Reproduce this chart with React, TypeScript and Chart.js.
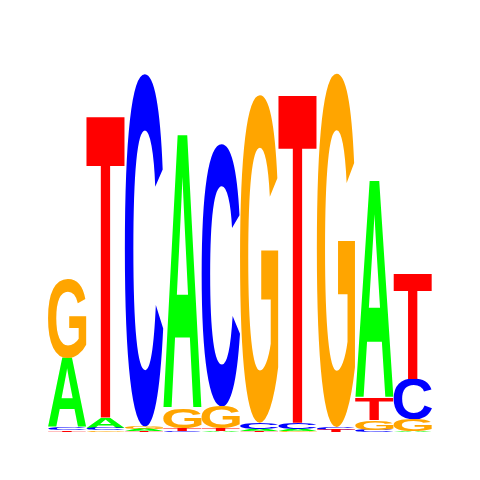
import React, { useEffect, useRef } from 'react';
import { Chart, registerables } from 'chart.js';

Chart.register(...registerables);

// motif positions
const positions = ['1', '2', '3', '4', '5', '6', '7', '8', '9', '10'];

// letter heights in bits, per position
const bitsA = [0.36, 0.055, 0.012, 1.43, 0.005, 0.01, 0.01, 0.0, 1.135, 0.005];
const bitsC = [0.015, 0.012, 1.84, 0.005, 1.37, 0.035, 0.035, 0.015, 0.01, 0.21];
const bitsG = [0.41, 0.008, 0.012, 0.1, 0.115, 1.71, 0.003, 1.846, 0.05, 0.06];
const bitsT = [0.008, 1.58, 0.004, 0.015, 0.012, 0.003, 1.72, 0.01, 0.115, 0.55];

const letters = ['A', 'C', 'G', 'T'];
const letterColors: Record<string, string> = {
  A: '#00ff00',
  C: '#0000ff',
  G: '#ffa500',
  T: '#ff0000',
};

const heights: Record<string, number[]> = { A: bitsA, C: bitsC, G: bitsG, T: bitsT };

// stack each column smallest-at-bottom, as a sequence logo does
const ranges: Record<string, [number, number][]> = { A: [], C: [], G: [], T: [] };
positions.forEach((_, i) => {
  const order = letters.slice().sort((a, b) => heights[a][i] - heights[b][i]);
  let base = 0;
  order.forEach((l) => {
    const h = heights[l][i];
    ranges[l].push([base, base + h]);
    base += h;
  });
});

const logoPlugin = {
  id: 'logoLetters',
  afterDatasetsDraw(chart: any) {
    const ctx = chart.ctx as CanvasRenderingContext2D;
    chart.data.datasets.forEach((ds: any, di: number) => {
      const meta = chart.getDatasetMeta(di);
      const letter = ds.label as string;
      meta.data.forEach((bar: any) => {
        const { x, y, base, width } = bar.getProps(['x', 'y', 'base', 'width'], true);
        const top = Math.min(y, base);
        const h = Math.abs(base - y);
        if (h < 0.2) return;
        ctx.save();
        ctx.font = 'bold 200px "Liberation Sans", Arial, sans-serif';
        ctx.textAlign = 'left';
        ctx.textBaseline = 'alphabetic';
        const m = ctx.measureText(letter);
        const gw = m.actualBoundingBoxLeft + m.actualBoundingBoxRight;
        const gh = m.actualBoundingBoxAscent + m.actualBoundingBoxDescent;
        ctx.translate(x - width / 2, top);
        ctx.scale(width / gw, h / gh);
        ctx.fillStyle = letterColors[letter];
        ctx.fillText(letter, m.actualBoundingBoxLeft, m.actualBoundingBoxAscent);
        ctx.restore();
      });
    });
  },
};

const SequenceLogo = () => {
  const chartRef = useRef<HTMLCanvasElement>(null);
  const chartInstance = useRef<Chart | null>(null);

  useEffect(() => {
    if (!chartRef.current) return;
    if (chartInstance.current) chartInstance.current.destroy();

    chartInstance.current = new Chart(chartRef.current, {
      type: 'bar',
      data: {
        labels: positions,
        datasets: letters.map((l) => ({
          label: l,
          data: ranges[l] as any,
          backgroundColor: 'rgba(0,0,0,0)',
          borderWidth: 0,
          grouped: false,
          barPercentage: 1,
          categoryPercentage: 1,
        })),
      },
      options: {
        animation: false,
        responsive: true,
        maintainAspectRatio: false,
        layout: { padding: { left: 48, right: 48, top: 48, bottom: 48 } },
        scales: {
          x: { display: false },
          y: { display: false, min: 0, max: 2 },
        },
        plugins: {
          legend: { display: false },
          tooltip: { enabled: false },
        },
      },
      plugins: [logoPlugin],
    });

    return () => {
      if (chartInstance.current) {
        chartInstance.current.destroy();
        chartInstance.current = null;
      }
    };
  }, []);

  return (
    <div style={{ position: 'absolute', left: 0, top: 0, width: 480, height: 480, background: '#fff' }}>
      <canvas ref={chartRef}></canvas>
    </div>
  );
};

export default function App() {
  return <SequenceLogo />;
}
